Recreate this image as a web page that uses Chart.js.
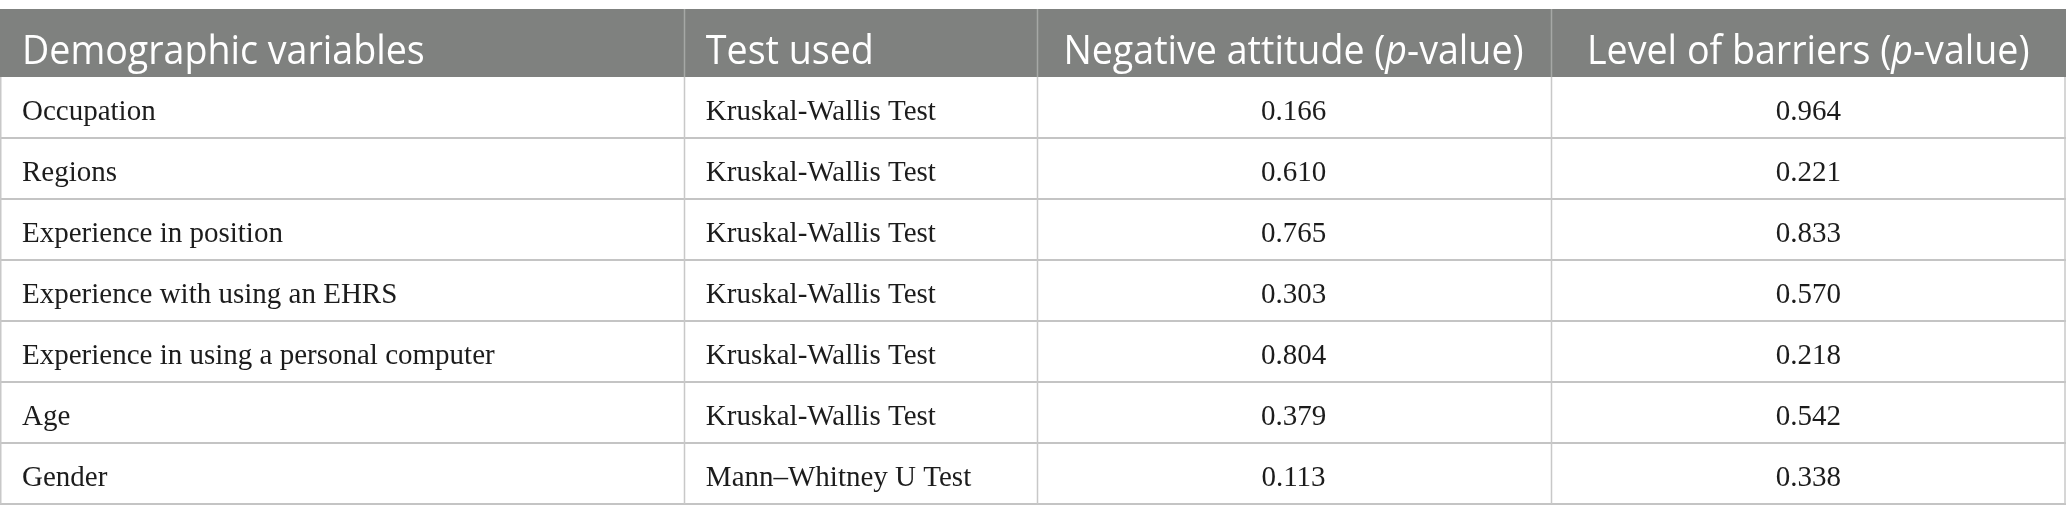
<!DOCTYPE html>
<html>
<head>
<meta charset="utf-8">
<script src="https://cdn.jsdelivr.net/npm/chart.js@4.4.0/dist/chart.umd.min.js"></script>
<style>
  html, body { margin: 0; padding: 0; background: #fff; }
  #wrap { width: 2067px; height: 525px; position: relative; }
</style>
</head>
<body>
<div id="wrap"><canvas id="tableChart"></canvas></div>
<script>
const headers = ['Demographic variables', 'Test used', 'Negative attitude (p-value)', 'Level of barriers (p-value)'];
const variables = ['Occupation', 'Regions', 'Experience in position', 'Experience with using an EHRS',
    'Experience in using a personal computer', 'Age', 'Gender'];
const tests = ['Kruskal-Wallis Test', 'Kruskal-Wallis Test', 'Kruskal-Wallis Test', 'Kruskal-Wallis Test',
    'Kruskal-Wallis Test', 'Kruskal-Wallis Test', 'Mann\u2013Whitney U Test'];
const negativeAttitude = ['0.166', '0.610', '0.765', '0.303', '0.804', '0.379', '0.113'];
const levelOfBarriers = ['0.964', '0.221', '0.833', '0.570', '0.218', '0.542', '0.338'];

// column edges in percent of the table width (x scale runs 0..100)
const colEdges = [0, 33.1, 50.17, 75.05, 100];

const headerTop = 9;
const headFont = '"Open Sans", "Noto Sans", sans-serif';
const bodyFont = '"Liberation Serif", "DejaVu Serif", serif';

// draws text with the "p" of "p-value" in italics
function drawMixed(ctx, text, x, y, align, size, squeeze) {
    const parts = text.split(/(p(?=-value))/).filter(s => s.length);
    const fontFor = (s) => (s === 'p' ? 'italic ' : '') + size + 'px ' + headFont;
    let total = 0;
    parts.forEach(s => { ctx.font = fontFor(s); total += ctx.measureText(s).width; });
    ctx.save();
    ctx.translate(x, y);
    ctx.scale(squeeze, 1);
    let cx = align === 'center' ? -total / 2 : 0;
    ctx.textAlign = 'left';
    parts.forEach(s => {
        ctx.font = fontFor(s);
        ctx.fillText(s, cx, 0);
        cx += ctx.measureText(s).width;
    });
    ctx.restore();
}

const tablePlugin = {
    id: 'tablePlugin',
    afterDraw(chart) {
        const ctx = chart.ctx;
        const xs = chart.scales.x;
        const ys = chart.scales.y;
        const area = chart.chartArea;
        const step = ys.getPixelForValue(1) - ys.getPixelForValue(0);
        const edges = colEdges.map(v => xs.getPixelForValue(v));
        const left = edges[0], right = edges[edges.length - 1];

        ctx.save();
        // header band
        ctx.fillStyle = '#7f817f';
        ctx.fillRect(left, headerTop, right - left, area.top - headerTop);
        ctx.strokeStyle = '#a6a8a6';
        ctx.lineWidth = 1.5;
        for (let c = 1; c < edges.length - 1; c++) {
            ctx.beginPath();
            ctx.moveTo(Math.round(edges[c]) + 0.5, headerTop);
            ctx.lineTo(Math.round(edges[c]) + 0.5, area.top);
            ctx.stroke();
        }
        ctx.fillStyle = '#ffffff';
        ctx.textBaseline = 'alphabetic';
        headers.forEach((h, c) => {
            const baseY = headerTop + 55;
            if (c < 2) {
                drawMixed(ctx, h, edges[c] + 22, baseY, 'left', 40, 0.94);
            } else {
                drawMixed(ctx, h, (edges[c] + edges[c + 1]) / 2, baseY, 'center', 40, 0.94);
            }
        });

        // body rows
        const bottom = ys.getPixelForValue(variables.length - 1) + step / 2;
        ctx.strokeStyle = '#c4c4c4';
        ctx.lineWidth = 2;
        variables.forEach((v, i) => {
            const yb = Math.round(ys.getPixelForValue(i) + step / 2);
            ctx.beginPath();
            ctx.moveTo(left, yb);
            ctx.lineTo(right, yb);
            ctx.stroke();
        });
        ctx.strokeStyle = '#c8c8c8';
        ctx.lineWidth = 1.5;
        edges.forEach((e, c) => {
            let xx = Math.round(e) + 0.5;
            if (c === 0) xx = 0.75;
            if (c === edges.length - 1) xx = Math.round(e) - 1;
            ctx.beginPath();
            ctx.moveTo(xx, area.top);
            ctx.lineTo(xx, bottom);
            ctx.stroke();
        });

        ctx.fillStyle = '#1c1c1c';
        ctx.font = '29px ' + bodyFont;
        variables.forEach((v, i) => {
            const baseY = ys.getPixelForValue(i) + 12;
            ctx.textAlign = 'left';
            ctx.fillText(v, edges[0] + 22, baseY);
            ctx.fillText(tests[i], edges[1] + 22, baseY);
            ctx.textAlign = 'center';
            ctx.fillText(negativeAttitude[i], (edges[2] + edges[3]) / 2, baseY);
            ctx.fillText(levelOfBarriers[i], (edges[3] + edges[4]) / 2, baseY);
        });
        ctx.restore();
    }
};

new Chart(document.getElementById('tableChart').getContext('2d'), {
    type: 'scatter',
    data: {
        labels: variables,
        datasets: []
    },
    options: {
        responsive: true,
        maintainAspectRatio: false,
        animation: false,
        events: [],
        layout: {
            padding: { top: 77, bottom: 21, left: 0, right: 1 }
        },
        plugins: {
            legend: { display: false },
            tooltip: { enabled: false }
        },
        scales: {
            x: { type: 'linear', min: 0, max: 100, display: false },
            y: { type: 'category', labels: variables, offset: true, display: false }
        }
    },
    plugins: [tablePlugin]
});
</script>
</body>
</html>
